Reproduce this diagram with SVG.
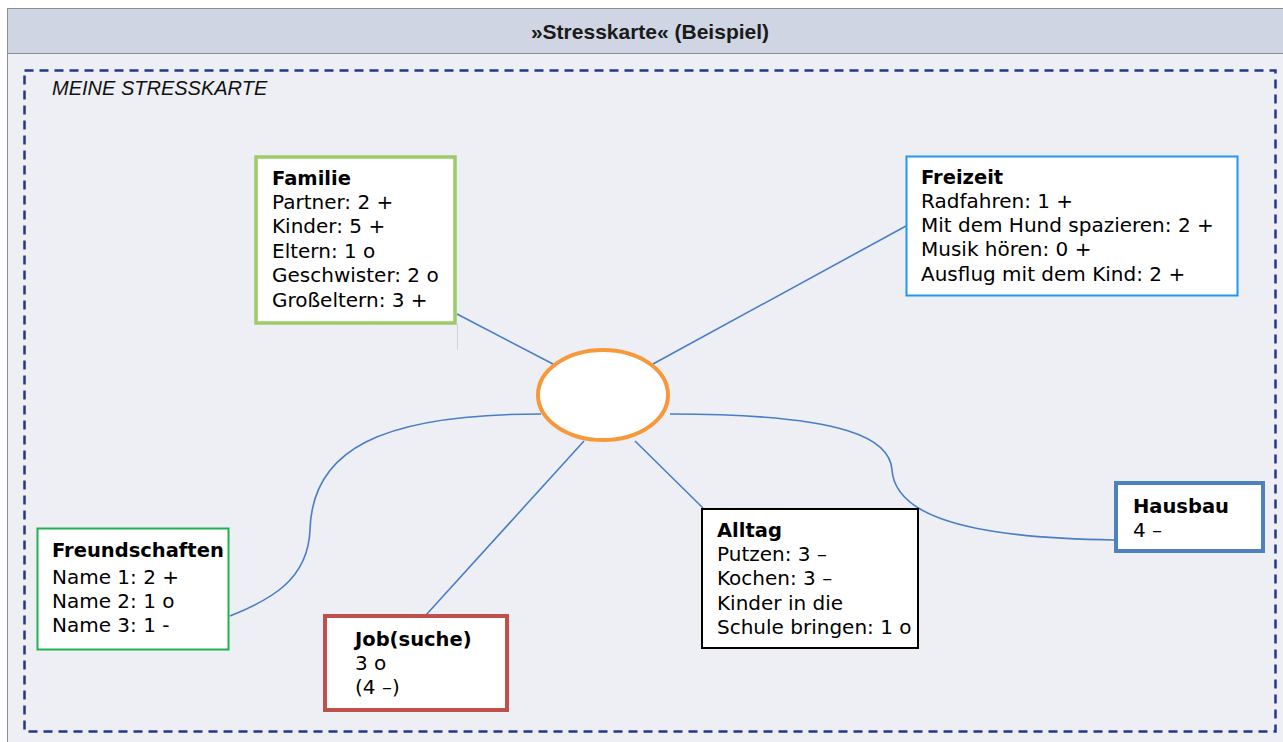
<svg xmlns="http://www.w3.org/2000/svg" width="1283" height="742" viewBox="0 0 1283 742">
<style>
.node{fill:#ffffff}
.t{font-family:"DejaVu Sans",Verdana,sans-serif;font-size:20px;fill:#000}
.b{font-weight:bold;font-size:19.5px}
.con{fill:none;stroke:#4a7ec4;stroke-width:1.6}
</style>
<rect x="0" y="0" width="1283" height="742" fill="#ffffff"/>
<rect x="7.5" y="8.5" width="1290" height="740" fill="#eeeff5" stroke="#8a8d96" stroke-width="1"/>
<rect x="7.5" y="8.5" width="1290" height="45" fill="#cfd5e3" stroke="#8a8d96" stroke-width="1"/>
<text x="650" y="39" text-anchor="middle" font-family="Liberation Sans, Arial, sans-serif" font-size="21" font-weight="bold" fill="#1a1a1a">»Stresskarte« (Beispiel)</text>
<rect x="24.5" y="70.5" width="1251" height="661" fill="none" stroke="#23378a" stroke-width="2.5" stroke-dasharray="9,6"/>
<text x="52" y="95" font-family="Liberation Sans, Arial, sans-serif" font-size="20" font-style="italic" fill="#111">MEINE STRESSKARTE</text>

<g id="connectors">
<line class="con" x1="457" y1="314" x2="553" y2="364"/>
<line class="con" x1="906" y1="226" x2="653" y2="364"/>
<path class="con" d="M541,414 C380,414 312,450 310,530 C308,580 270,600 230,616"/>
<line class="con" x1="584" y1="441" x2="426" y2="615"/>
<line class="con" x1="635" y1="441" x2="703" y2="508"/>
<path class="con" d="M670,414 C850,414 890,440 892,470 C895,510 950,538 1115,540"/>
<line x1="457.5" y1="324" x2="457.5" y2="350" stroke="#d0d3d8" stroke-width="1"/>
</g>

<g id="center">
<ellipse cx="603" cy="395" rx="65" ry="45" fill="#ffffff" stroke="#f7983a" stroke-width="4"/>
</g>

<g id="familie">
<rect class="node" x="256" y="157" width="199" height="166" stroke="#9ccc65" stroke-width="3.5"/>
<text class="t b" x="272" y="185">Familie</text>
<text class="t" x="272" y="209">Partner: 2 +</text>
<text class="t" x="272" y="233">Kinder: 5 +</text>
<text class="t" x="272" y="258">Eltern: 1 o</text>
<text class="t" x="272" y="282">Geschwister: 2 o</text>
<text class="t" x="272" y="307">Großeltern: 3 +</text>
</g>

<g id="freizeit">
<rect class="node" x="906.5" y="156.5" width="331" height="139" stroke="#2196f3" stroke-width="2"/>
<text class="t b" x="921" y="184">Freizeit</text>
<text class="t" x="921" y="208">Radfahren: 1 +</text>
<text class="t" x="921" y="232">Mit dem Hund spazieren: 2 +</text>
<text class="t" x="921" y="256">Musik hören: 0 +</text>
<text class="t" x="921" y="281">Ausflug mit dem Kind: 2 +</text>
</g>

<g id="freundschaften">
<rect class="node" x="37.5" y="528.5" width="191" height="121" stroke="#1fb14f" stroke-width="2"/>
<text class="t b" x="52" y="557">Freundschaften</text>
<text class="t" x="52" y="584">Name 1: 2 +</text>
<text class="t" x="52" y="608">Name 2: 1 o</text>
<text class="t" x="52" y="632">Name 3: 1 -</text>
</g>

<g id="job">
<rect class="node" x="325" y="616" width="182" height="94" stroke="#c0504d" stroke-width="4"/>
<text class="t b" x="355" y="646">Job(suche)</text>
<text class="t" x="355" y="670">3 o</text>
<text class="t" x="355" y="694">(4 –)</text>
</g>

<g id="alltag">
<rect class="node" x="702" y="509" width="216" height="139" stroke="#000" stroke-width="2"/>
<text class="t b" x="717" y="537">Alltag</text>
<text class="t" x="717" y="561">Putzen: 3 –</text>
<text class="t" x="717" y="585">Kochen: 3 –</text>
<text class="t" x="717" y="610">Kinder in die</text>
<text class="t" x="717" y="634">Schule bringen: 1 o</text>
</g>

<g id="hausbau">
<rect class="node" x="1116" y="483" width="147" height="68" stroke="#4f81bd" stroke-width="4"/>
<text class="t b" x="1133" y="513">Hausbau</text>
<text class="t" x="1133" y="537">4 –</text>
</g>
</svg>
